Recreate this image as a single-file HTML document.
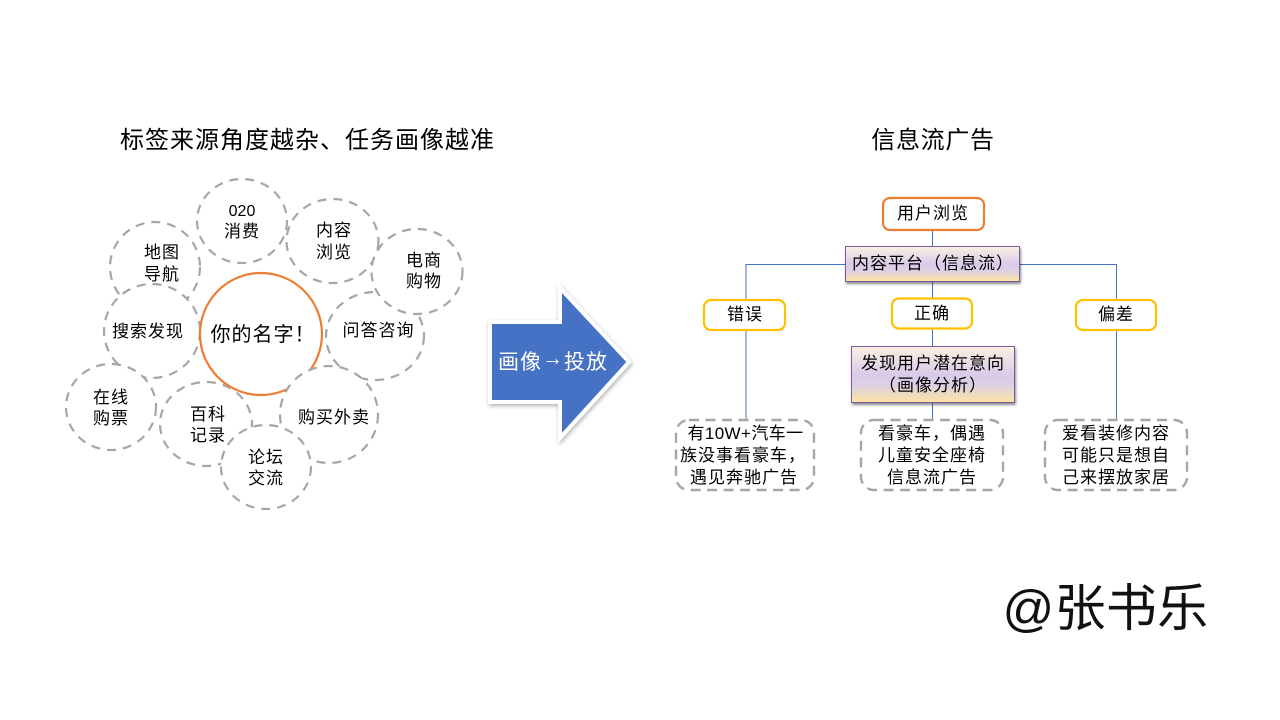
<!DOCTYPE html>
<html><head><meta charset="utf-8"><style>
html,body{margin:0;padding:0;background:#fff}
svg{display:block}
text{font-family:"Liberation Sans","Noto Sans CJK SC",sans-serif;fill:#000;text-anchor:middle}
.c{fill:#fff;stroke:#a6a6a6;stroke-width:2.2;stroke-dasharray:9 7}
.t{font-size:17px;letter-spacing:1px}
.l{stroke:#4472c4;stroke-width:1;fill:none}
.r{fill:#fff;stroke:#ffc000;stroke-width:2.2}
.d{fill:#fff;stroke:#a6a6a6;stroke-width:2.4;stroke-dasharray:10 6.500}
.p{fill:url(#g);stroke:#7b5aa0;stroke-width:1;filter:url(#s)}
</style></head><body>
<svg width="1280" height="720" viewBox="0 0 1280 720" xmlns="http://www.w3.org/2000/svg">
<defs>
<linearGradient id="g" x1="0" y1="0" x2="0" y2="1"><stop offset="0" stop-color="#fbf0e2"/><stop offset=".5" stop-color="#d9cbea"/><stop offset=".68" stop-color="#dccfe6"/><stop offset="1" stop-color="#fde3a0"/></linearGradient>
<filter id="s" x="-10%" y="-20%" width="120%" height="150%"><feDropShadow dx="1" dy="2" stdDeviation="1.2" flood-color="#000" flood-opacity=".45"/></filter>
<filter id="a" x="-10%" y="-10%" width="120%" height="120%"><feDropShadow dx="1" dy="2" stdDeviation="2" flood-color="#000" flood-opacity=".3"/></filter>
</defs>
<rect width="1280" height="720" fill="#fff"/>
<text x="307.500" y="148" font-size="24" letter-spacing="1">标签来源角度越杂、任务画像越准</text>
<text x="933" y="148" font-size="24" letter-spacing=".7">信息流广告</text>

<ellipse class="c" cx="155" cy="267" rx="45" ry="45"/>
<ellipse class="c" cx="242" cy="221" rx="45" ry="42"/>
<ellipse class="c" cx="332.500" cy="241" rx="46" ry="42"/>
<ellipse class="c" cx="152" cy="331" rx="48" ry="47"/>
<ellipse class="c" cx="111" cy="407" rx="45" ry="43"/>
<ellipse class="c" cx="206" cy="424" rx="46" ry="42"/>
<circle cx="261" cy="334" r="61" fill="#fff" stroke="#ed7d31" stroke-width="2.2"/>
<ellipse class="c" cx="375" cy="336" rx="49" ry="44"/>
<ellipse class="c" cx="417" cy="271.500" rx="45.500" ry="42.500"/>
<ellipse class="c" cx="329" cy="414.500" rx="49" ry="48.500"/>
<ellipse class="c" cx="266" cy="467" rx="45" ry="42"/>

<text x="242" y="216" font-size="16">020</text><text class="t" x="242" y="237">消费</text>
<text class="t" x="162" y="258">地图</text><text class="t" x="162" y="280">导航</text>
<text class="t" x="334" y="236">内容</text><text class="t" x="334" y="258">浏览</text>
<text class="t" x="424" y="266">电商</text><text class="t" x="424" y="287">购物</text>
<text class="t" x="378.500" y="336">问答咨询</text>
<text class="t" x="148" y="337">搜索发现</text>
<text x="263" y="341" font-size="20" letter-spacing="1">你的名字！</text>
<text class="t" x="111" y="403">在线</text><text class="t" x="111" y="424">购票</text>
<text class="t" x="208" y="420">百科</text><text class="t" x="208" y="441">记录</text>
<text class="t" x="334" y="423">购买外卖</text>
<text class="t" x="266" y="463">论坛</text><text class="t" x="266" y="484">交流</text>

<path d="M490 322H560V288L629 362L560 438V402H490Z" fill="#4472c4" stroke="#fff" stroke-width="4" filter="url(#a)"/>
<text x="553" y="369" font-size="21" letter-spacing="1" style="fill:#fff">画像<tspan dy="-4">→</tspan><tspan dy="4">投放</tspan></text>

<path class="l" d="M932.500 230V247M932.500 282V300M932.500 329V347M746 300V264.500H846M1018 264.500H1116.500V300M746 330V420M1116.500 330V420M932.500 402V420"/>
<rect x="883" y="198" width="101" height="32" rx="7" fill="#fff" stroke="#ed7d31" stroke-width="2.2"/>
<text class="t" x="933" y="219">用户浏览</text>
<rect class="p" x="845.500" y="246.500" width="174" height="35"/>
<text class="t" x="933" y="269">内容平台（信息流）</text>
<rect class="r" x="704" y="300" width="81" height="30" rx="7"/><text class="t" x="745" y="320">错误</text>
<rect class="r" x="892" y="298.500" width="80" height="30" rx="7"/><text class="t" x="932" y="319">正确</text>
<rect class="r" x="1076" y="300" width="80" height="30" rx="7"/><text class="t" x="1116" y="320">偏差</text>
<rect class="p" x="851.500" y="346.500" width="163" height="56"/>
<text class="t" x="933" y="369">发现用户潜在意向</text><text class="t" x="933" y="391">（画像分析）</text>

<rect class="d" x="676" y="420" width="138" height="70" rx="13"/>
<rect class="d" x="861" y="420" width="142" height="70" rx="13"/>
<rect class="d" x="1045" y="420" width="142" height="70" rx="13"/>
<text x="745.500" y="439" font-size="17" letter-spacing=".4">有10W+汽车一</text><text class="t" x="743" y="461">族没事看豪车，</text><text class="t" x="744" y="483">遇见奔驰广告</text>
<text class="t" x="932" y="439">看豪车，偶遇</text><text class="t" x="932" y="461">儿童安全座椅</text><text class="t" x="932" y="483">信息流广告</text>
<text class="t" x="1116" y="439">爱看装修内容</text><text class="t" x="1116" y="461">可能只是想自</text><text class="t" x="1116" y="483">己来摆放家居</text>

<text x="1105.500" y="626" font-size="51" letter-spacing=".3" style="fill:#111">@张书乐</text>
</svg>
</body></html>
